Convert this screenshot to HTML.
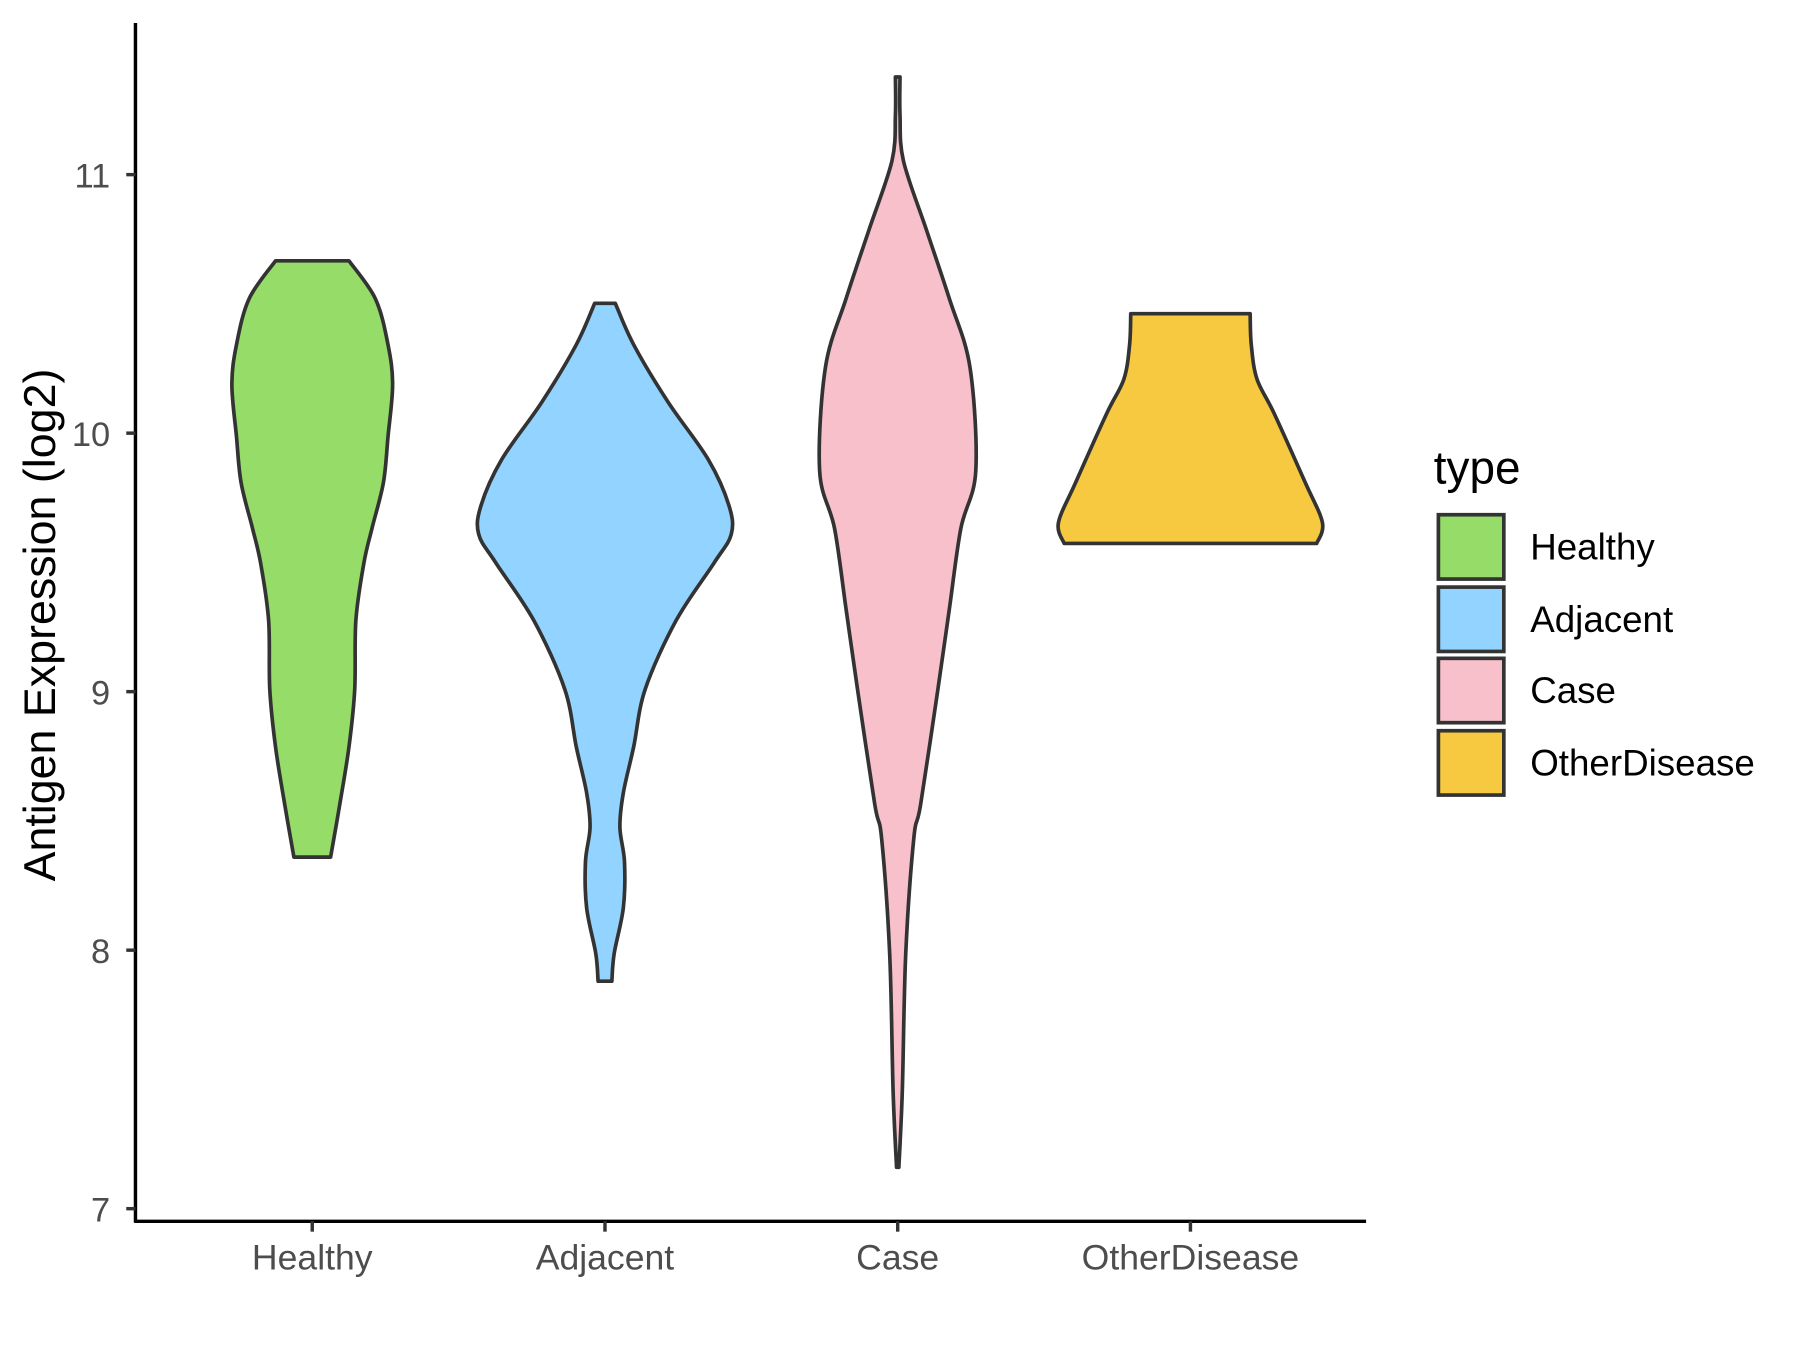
<!DOCTYPE html>
<html><head><meta charset="utf-8"><style>
html,body{margin:0;padding:0;background:#fff;}
svg{display:block;}
text{font-family:"Liberation Sans",Arial,sans-serif;}
</style></head><body>
<svg id="s" width="1800" height="1350" viewBox="0 0 1568 1175" preserveAspectRatio="none" xmlns="http://www.w3.org/2000/svg">
<rect width="1568" height="1175" fill="#fff"/>
<g id="v" stroke="#333" stroke-width="3.2" stroke-linejoin="round"></g>
<line x1="118" y1="20" x2="118" y2="1064" stroke="#000" stroke-width="3"/>
<line x1="117" y1="1063" x2="1190" y2="1063" stroke="#000" stroke-width="3"/>
<g stroke="#333" stroke-width="3">
<line x1="110" y1="152" x2="118" y2="152"/><line x1="110" y1="377" x2="118" y2="377"/>
<line x1="110" y1="602" x2="118" y2="602"/><line x1="110" y1="827" x2="118" y2="827"/>
<line x1="110" y1="1052" x2="118" y2="1052"/>
<line x1="272" y1="1063" x2="272" y2="1072"/><line x1="527" y1="1063" x2="527" y2="1072"/>
<line x1="782" y1="1063" x2="782" y2="1072"/><line x1="1037" y1="1063" x2="1037" y2="1072"/>
</g>
<g font-size="30" fill="#4d4d4d" text-anchor="end">
<text x="96" y="163">11</text><text x="96" y="388">10</text><text x="96" y="613">9</text><text x="96" y="838">8</text><text x="96" y="1063">7</text>
</g>
<g font-size="31" fill="#4d4d4d" text-anchor="middle">
<text x="272" y="1105">Healthy</text><text x="527" y="1105">Adjacent</text><text x="782" y="1105">Case</text><text x="1037" y="1105">OtherDisease</text>
</g>
<text transform="translate(48,544) rotate(-90)" font-size="39" fill="#000" text-anchor="middle">Antigen Expression (log2)</text>
<text x="1249" y="421" font-size="40" fill="#000">type</text>
<g stroke="#333" stroke-width="3.2">
<rect x="1253" y="448" width="57" height="56" fill="#95DC69"/>
<rect x="1253" y="511" width="57" height="56" fill="#93D3FF"/>
<rect x="1253" y="573" width="57" height="56" fill="#F7C0CB"/>
<rect x="1253" y="636" width="57" height="56" fill="#F6C940"/>
</g>
<g font-size="32" fill="#000">
<text x="1333" y="487">Healthy</text><text x="1333" y="550">Adjacent</text><text x="1333" y="612">Case</text><text x="1333" y="675">OtherDisease</text>
</g>
</svg>
<script>
var V=[
[272,"#95DC69",[[227,32],[260,55],[300,66],[335,70],[380,66],[420,62],[460,52],[490,45],[540,38],[600,37],[650,32],[700,24],[746,16]]],
[527,"#93D3FF",[[264,9],[300,25],[350,55],[400,90],[440,108],[465,110],[490,95],[540,62],[600,35],[650,25],[690,16],[720,13],[750,17],[790,16],[830,8],[854,6]]],
[782,"#F7C0CB",[[67,2],[100,2],[140,5],[200,25],[260,45],[320,63],[410,68],[460,55],[530,45],[600,35],[700,20],[730,14],[830,7],[950,4],[1016,1]]],
[1037,"#F6C940",[[273,52],[300,53],[330,58],[360,73],[420,100],[455,115],[473,110]]]
];
function cr(pts){var d="";for(var i=0;i<pts.length-1;i++){var p0=pts[Math.max(i-1,0)],p1=pts[i],p2=pts[i+1],p3=pts[Math.min(i+2,pts.length-1)];
d+=" C"+(p1[0]+(p2[0]-p0[0])/6)+","+(p1[1]+(p2[1]-p0[1])/6)+" "+(p2[0]-(p3[0]-p1[0])/6)+","+(p2[1]-(p3[1]-p1[1])/6)+" "+p2[0]+","+p2[1];}return d;}
var g=document.getElementById("v");
V.forEach(function(v){var c=v[0],p=v[2];
var R=p.map(function(q){return[c+q[1],q[0]]});var L=p.slice().reverse().map(function(q){return[c-q[1],q[0]]});
var d="M"+(c-p[0][1])+","+p[0][0]+" L"+R[0][0]+","+R[0][1]+cr(R)+" L"+L[0][0]+","+L[0][1]+cr(L)+" Z";
var e=document.createElementNS("http://www.w3.org/2000/svg","path");e.setAttribute("d",d);e.setAttribute("fill",v[1]);g.appendChild(e);});
</script>
</body></html>
